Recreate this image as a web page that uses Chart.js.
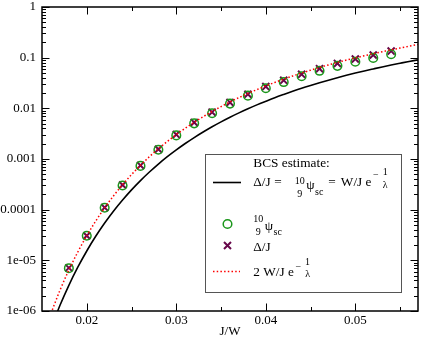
<!DOCTYPE html>
<html><head><meta charset="utf-8">
<script src="https://cdn.jsdelivr.net/npm/chart.js@4/dist/chart.umd.min.js"></script>
<style>html,body{margin:0;padding:0;background:#fff}#wrap{width:425px;height:340px;position:relative}</style>
</head><body><div id="wrap"><canvas id="c" width="425" height="340"></canvas></div>
<script>
// ---- data ----
const lineX = [0.016,0.017,0.018,0.019,0.020,0.021,0.022,0.023,0.024,0.025,0.026,0.027,0.028,0.029,0.030,0.031,0.032,0.033,0.034,0.035,0.036,0.037,0.038,0.039,0.040,0.041,0.042,0.043,0.044,0.045,0.046,0.047,0.048,0.049,0.050,0.051,0.052,0.053,0.054,0.055,0.056,0.057];
// dotted red: 2 W/J e^{-1/lambda}
const twoWJ = [8.99e-7,2.55e-6,6.42e-6,1.46e-5,3.06e-5,5.95e-5,1.09e-4,1.88e-4,3.11e-4,4.92e-4,7.50e-4,1.11e-3,1.59e-3,2.22e-3,3.03e-3,4.05e-3,5.30e-3,6.83e-3,8.66e-3,1.08e-2,1.34e-2,1.63e-2,1.96e-2,2.34e-2,2.77e-2,3.24e-2,3.76e-2,4.34e-2,4.97e-2,5.66e-2,6.40e-2,7.19e-2,8.04e-2,8.96e-2,9.92e-2,0.109,0.120,0.131,0.143,0.155,0.168,0.182];
// solid black: BCS estimate W/J e^{-1/lambda}
const bcsWJ = [4.50e-7,1.28e-6,3.21e-6,7.31e-6,1.53e-5,2.98e-5,5.44e-5,9.42e-5,1.55e-4,2.46e-4,3.75e-4,5.53e-4,7.94e-4,1.11e-3,1.51e-3,2.02e-3,2.65e-3,3.41e-3,4.33e-3,5.41e-3,6.68e-3,8.14e-3,9.80e-3,1.17e-2,1.38e-2,1.62e-2,1.88e-2,2.17e-2,2.49e-2,2.83e-2,3.20e-2,3.60e-2,4.02e-2,4.48e-2,4.96e-2,5.47e-2,6.00e-2,6.57e-2,7.16e-2,7.77e-2,8.42e-2,9.08e-2];
const pointX = [0.018,0.020,0.022,0.024,0.026,0.028,0.030,0.032,0.034,0.036,0.038,0.040,0.042,0.044,0.046,0.048,0.050,0.052,0.054];
// circles: 10/9 psi_sc
const psiSc = [7.0e-6,3.05e-5,1.09e-4,3.0e-4,7.3e-4,1.52e-3,2.92e-3,5.05e-3,8.0e-3,1.24e-2,1.78e-2,2.49e-2,3.30e-2,4.30e-2,5.50e-2,6.90e-2,8.30e-2,0.099,0.117];
// crosses: Delta/J
const deltaJ = [7.1e-6,3.06e-5,1.10e-4,3.07e-4,7.46e-4,1.56e-3,3.03e-3,5.28e-3,8.4e-3,1.31e-2,1.90e-2,2.69e-2,3.57e-2,4.69e-2,6.07e-2,7.71e-2,0.094,0.113,0.135];
const xTickValues = [0.02,0.03,0.04,0.05];
const xTickLabels = ['0.02','0.03','0.04','0.05'];
const xMinorValues = [0.025,0.035,0.045,0.055];
const yTickValues = [1,0.1,0.01,0.001,0.0001,1e-5,1e-6];
const yTickLabels = ['1','0.1','0.01','0.001','0.0001','1e-05','1e-06'];
const xTitle = 'J/W';

const GREEN = '#1a961a', MAROON = '#67074a', RED = '#ff0000';
const FONT = 'Liberation Serif';

function pts(xs, ys){ return xs.map((x,i)=>({x:x, y:ys[i]})); }

const framePlugin = {
  id:'frame',
  afterDatasetsDraw(chart){
    const {ctx, chartArea:a, scales:{x, y}} = chart;
    ctx.save();
    ctx.strokeStyle = '#000';
    ctx.lineWidth = 1;
    const major = 7.5, minor = 4;
    ctx.beginPath();
    xTickValues.forEach(v=>{ const p = Math.round(x.getPixelForValue(v))+0.5;
      ctx.moveTo(p,a.bottom); ctx.lineTo(p,a.bottom-major);
      ctx.moveTo(p,a.top); ctx.lineTo(p,a.top+major); });
    xMinorValues.forEach(v=>{ const p = Math.round(x.getPixelForValue(v))+0.5;
      ctx.moveTo(p,a.bottom); ctx.lineTo(p,a.bottom-minor);
      ctx.moveTo(p,a.top); ctx.lineTo(p,a.top+minor); });
    yTickValues.forEach(v=>{ const p = Math.round(y.getPixelForValue(v))+0.5;
      ctx.moveTo(a.left,p); ctx.lineTo(a.left+major,p);
      ctx.moveTo(a.right,p); ctx.lineTo(a.right-major,p);
      if (v < 1) { for (let k=2;k<=9;k++){ const q = Math.round(y.getPixelForValue(v*k))+0.5;
        ctx.moveTo(a.left,q); ctx.lineTo(a.left+minor,q);
        ctx.moveTo(a.right,q); ctx.lineTo(a.right-minor,q); } }
    });
    ctx.stroke();
    ctx.lineWidth = 1.5;
    ctx.strokeRect(a.left, a.top, a.right-a.left, a.bottom-a.top);
    ctx.restore();
  },
  afterDraw(chart){
    const ctx = chart.ctx;
    ctx.save();
    // legend box
    ctx.fillStyle = '#fff';
    ctx.fillRect(205.5,154.5,196,138);
    ctx.strokeStyle = '#555'; ctx.lineWidth = 1;
    ctx.strokeRect(205.5,154.5,196,138);
    ctx.fillStyle = '#000';
    ctx.textBaseline = 'alphabetic';
    ctx.textAlign = 'left';
    const MS = 13.3, SS = 10;
    function t(s, x, y, size){ ctx.font = size+'px "'+FONT+'"'; ctx.fillText(s,x,y); return ctx.measureText(s).width; }
    function w(s, size){ ctx.font = size+'px "'+FONT+'"'; return ctx.measureText(s).width; }
    function frac(n, d, cx, yn, yd, size){ ctx.font = size+'px "'+FONT+'"'; ctx.textAlign='center'; ctx.fillText(n,cx,yn); ctx.fillText(d,cx,yd); ctx.textAlign='left'; }
    // entry 1
    t('BCS estimate:', 253.3, 166.5, MS);
    ctx.strokeStyle='#000'; ctx.lineWidth=1.6;
    ctx.beginPath(); ctx.moveTo(213,182.5); ctx.lineTo(241,182.5); ctx.stroke();
    let x = 253.3;
    x += t('\u0394/J', x, 185.5, MS) + 3.5;
    x += t('=', x, 185.5, MS) + 13;
    frac('10','9', x + w('10',SS)/2, 183.5, 196.5, SS);
    x += w('10',SS) + 1.5;
    x += t('\u03C8', x, 188.5, MS) + 0.5;
    x += t('sc', x, 195, SS) + 5;
    x += t('=', x, 185.5, MS) + 5;
    x += t('W/J e', x, 185.5, MS) + 1.5;
    x += t('\u2212', x, 178, SS) + 4;
    frac('1','\u03BB', x + 2.5, 175, 187.5, SS);
    // entry 2: circle
    ctx.strokeStyle = GREEN; ctx.lineWidth = 1.5;
    ctx.beginPath(); ctx.arc(227.5,224,4.3,0,Math.PI*2); ctx.stroke();
    x = 253.3;
    frac('10','9', x + w('10',SS)/2, 222, 234.5, SS);
    x += w('10',SS) + 1.5;
    x += t('\u03C8', x, 229.5, MS) + 0.5;
    t('sc', x, 235, SS);
    // entry 3: cross
    ctx.strokeStyle = MAROON; ctx.lineWidth = 2;
    const r = 3.5;
    ctx.beginPath(); ctx.moveTo(227.5-r,245.5-r); ctx.lineTo(227.5+r,245.5+r);
    ctx.moveTo(227.5+r,245.5-r); ctx.lineTo(227.5-r,245.5+r); ctx.stroke();
    t('\u0394/J', 253.3, 250.5, MS);
    // entry 4: dotted
    ctx.strokeStyle = RED; ctx.lineWidth = 1.5; ctx.setLineDash([1.5,2.2]);
    ctx.beginPath(); ctx.moveTo(213,271.5); ctx.lineTo(240,271.5); ctx.stroke();
    ctx.setLineDash([]);
    x = 253.3;
    x += t('2 W/J e', x, 276, MS) + 1.5;
    x += t('\u2212', x, 269.5, SS) + 4;
    frac('1','\u03BB', x + 2.5, 265, 277, SS);
    ctx.restore();
  }
};

new Chart(document.getElementById('c'), {
  type:'scatter',
  data:{ datasets:[
    { label:'BCS', data:pts(lineX,bcsWJ), showLine:true, borderColor:'#000', borderWidth:1.6, pointRadius:0, cubicInterpolationMode:'monotone' },
    { label:'2 W/J', data:pts(lineX,twoWJ), showLine:true, borderColor:RED, borderWidth:1.5, borderDash:[1.5,2.2], pointRadius:0, cubicInterpolationMode:'monotone' },
    { label:'psi', data:pts(pointX,psiSc), showLine:false, pointStyle:'circle', pointRadius:4.3, borderColor:GREEN, backgroundColor:'rgba(0,0,0,0)', pointBorderWidth:1.5, borderWidth:1.5 },
    { label:'Delta', data:pts(pointX,deltaJ), showLine:false, pointStyle:'crossRot', pointRadius:5, borderColor:MAROON, backgroundColor:MAROON, pointBorderWidth:2, borderWidth:2 }
  ]},
  options:{
    responsive:false, animation:false, devicePixelRatio:1, events:[],
    layout:{ padding:{ top:5, right:2, left:0, bottom:0 } },
    plugins:{ legend:{display:false}, tooltip:{enabled:false} },
    scales:{
      x:{ type:'linear', min:0.015, max:0.057,
        grid:{display:false, drawTicks:false}, border:{display:false},
        afterBuildTicks:(s)=>{ s.ticks = xTickValues.map(v=>({value:v})); },
        afterFit:(s)=>{ s.height = 29; s.paddingLeft = 0; s.paddingRight = 0; },
        ticks:{ autoSkip:false, maxRotation:0, padding:2, color:'#000', font:{family:FONT,size:13},
          callback:(v,i)=>xTickLabels[i] },
        title:{ display:true, text:xTitle, color:'#000', font:{family:FONT,size:13}, padding:{top:0,bottom:1} }
      },
      y:{ type:'logarithmic', min:1e-6, max:1,
        grid:{display:false, drawTicks:false}, border:{display:false},
        afterBuildTicks:(s)=>{ s.ticks = yTickValues.slice().reverse().map(v=>({value:v})); },
        afterFit:(s)=>{ s.width = 42; s.paddingTop = 0; s.paddingBottom = 0; },
        ticks:{ autoSkip:false, padding:6, color:'#000', font:{family:FONT,size:13},
          callback:(v,i,arr)=>{ const k = yTickValues.indexOf(arr[i].value); return yTickLabels[k]; } }
      }
    }
  },
  plugins:[framePlugin]
});
</script></body></html>
